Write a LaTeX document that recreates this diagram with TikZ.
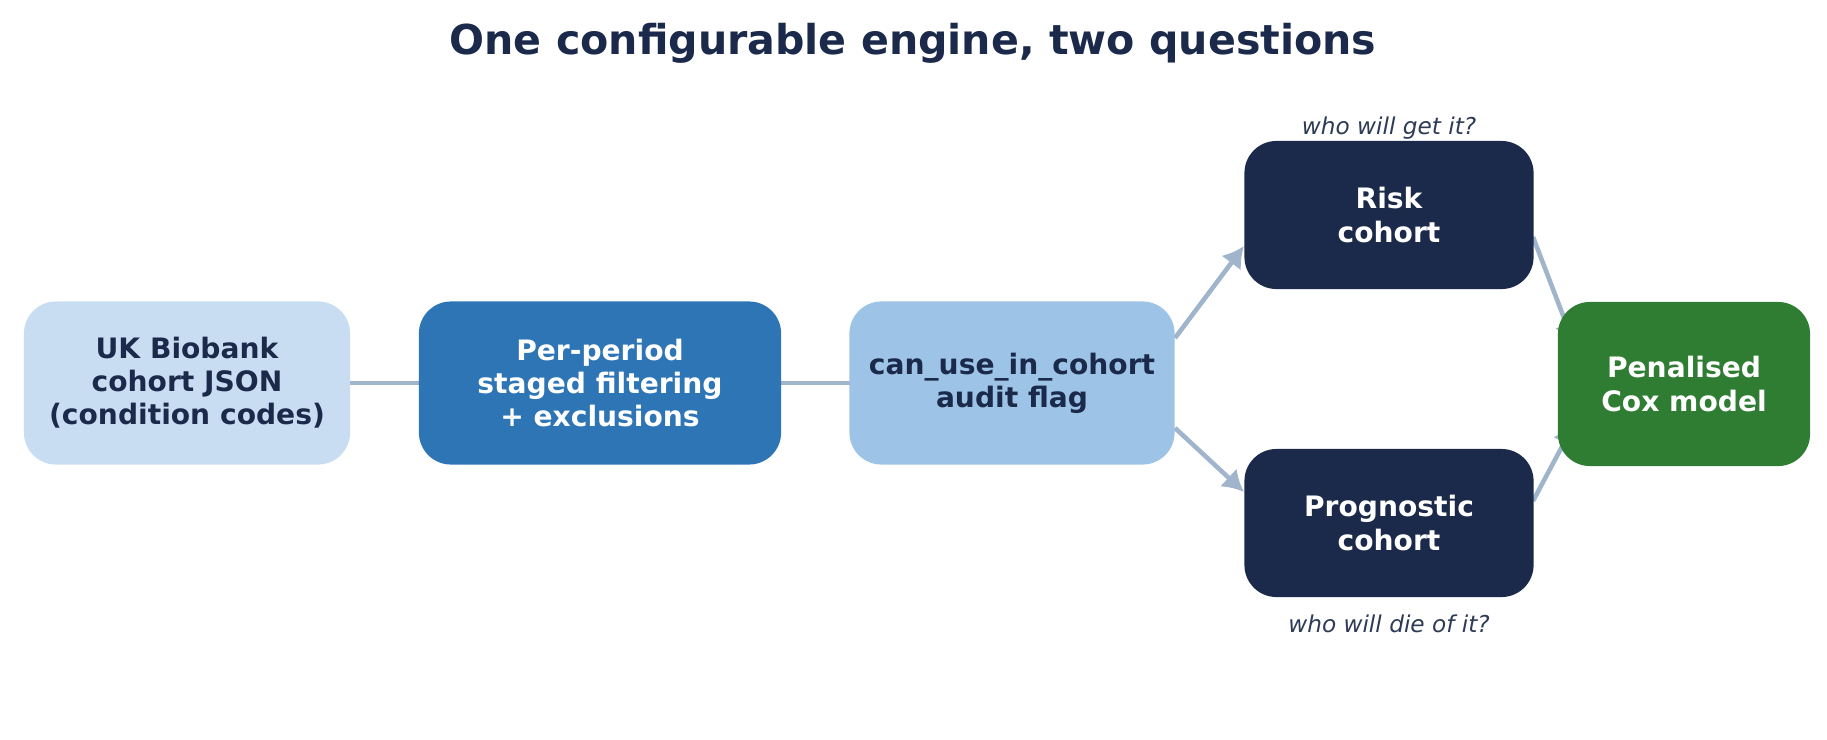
\documentclass[tikz,border=0pt]{standalone}
\usepackage{fontspec}
\setmainfont{DejaVu Sans}
\usetikzlibrary{arrows.meta}
\definecolor{navy}{HTML}{1B2A4A}
\definecolor{paleblue}{HTML}{C9DDF2}
\definecolor{midblue}{HTML}{2E75B6}
\definecolor{skyblue}{HTML}{9DC3E6}
\definecolor{coxgreen}{HTML}{2E7D32}
\definecolor{link}{HTML}{A0B4CC}
\definecolor{note}{HTML}{2E3B55}
\tikzset{
  stage/.style={rounded corners=0.32cm,align=center,font=\fontsize{8}{9.4}\selectfont\bfseries,inner sep=0pt},
  flow/.style={draw=link,line width=1.3pt,-{Latex[length=6pt,width=7pt]}},
  remark/.style={font=\fontsize{6.6}{8}\selectfont\itshape,text=note}
}
\begin{document}
\begin{tikzpicture}[x=0.01cm,y=-0.01cm]
    \useasboundingbox (0,0) rectangle (1827,739);
    \node[font=\fontsize{11.7}{14}\selectfont\bfseries,text=navy] (title) at (913,43) {One configurable engine, two questions};

    % Coordinates of the stage centres
    \coordinate (pc) at (187,383);
    \coordinate (fc) at (600,383);
    \coordinate (ac) at (1012,383);
    \coordinate (rc) at (1389,215);
    \coordinate (gc) at (1389,523);
    \coordinate (cc) at (1684,384);

    % Connectors first, boxes on top
    \draw[flow] (pc) -- (fc);
    \draw[flow] (fc) -- (ac);
    \draw[flow] ([shift={(163,-45)}]ac) -- ([shift={(-145,31)}]rc);
    \draw[flow] ([shift={(163,45)}]ac) -- ([shift={(-145,-31)}]gc);
    \draw[flow] ([shift={(144,22)}]rc) -- ([shift={(-110,-40)}]cc);
    \draw[flow] ([shift={(144,-22)}]gc) -- ([shift={(-110,40)}]cc);

    \node[stage,fill=paleblue,text=navy,minimum width=3.26cm,minimum height=1.63cm] (panel) at (pc) {UK Biobank\\cohort JSON\\(condition codes)};
    \node[stage,fill=midblue,text=white,minimum width=3.62cm,minimum height=1.63cm] (filter) at (fc) {Per-period\\staged filtering\\+ exclusions};
    \node[stage,fill=skyblue,text=navy,minimum width=3.25cm,minimum height=1.63cm] (audit) at (ac) {can\_use\_in\_cohort\\audit flag};
    \node[stage,fill=navy,text=white,minimum width=2.89cm,minimum height=1.48cm] (risk) at (rc) {Risk\\cohort};
    \node[stage,fill=navy,text=white,minimum width=2.89cm,minimum height=1.48cm] (prog) at (gc) {Prognostic\\cohort};
    \node[stage,fill=coxgreen,text=white,minimum width=2.52cm,minimum height=1.64cm] (cox) at (cc) {Penalised\\Cox model};

    \node[remark] (getit) at (1389,128) {who will get it?};
    \node[remark] (dieof) at (1389,624) {who will die of it?};
\end{tikzpicture}
\end{document}
